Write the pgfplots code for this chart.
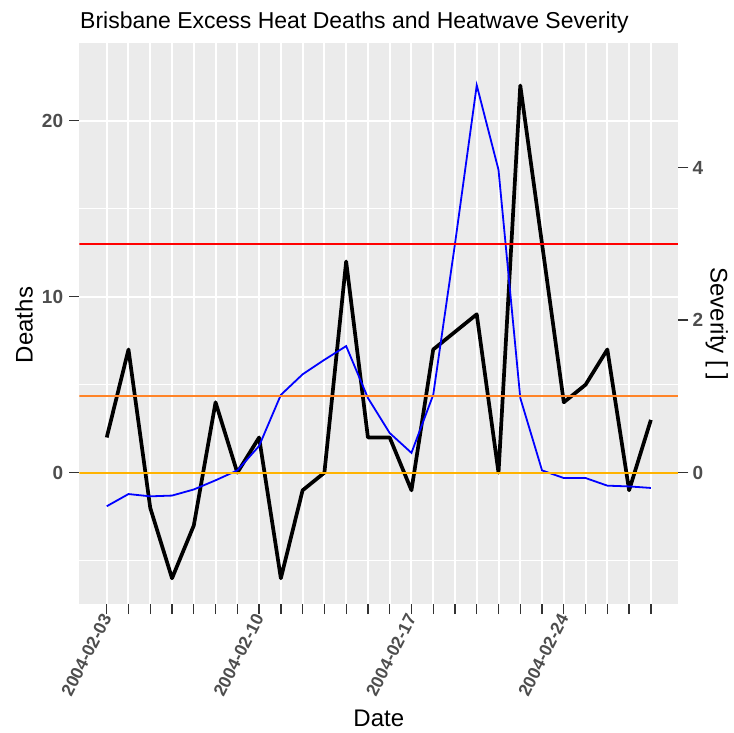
\documentclass[border=0pt]{standalone}
\usepackage{pgfplots}
\pgfplotsset{compat=1.18}
\usepackage{pgfplotstable}
\usepackage{fontspec}
\setmainfont{Liberation Sans}
\definecolor{panelbg}{HTML}{EBEBEB}
\definecolor{tickgrey}{HTML}{4D4D4D}
\definecolor{tickdark}{HTML}{333333}
\definecolor{sevred}{HTML}{FF0000}
\definecolor{sevorange}{HTML}{FF8428}
\definecolor{sevyellow}{HTML}{FFB300}

\pgfplotstableread{
day deaths severity
0 2 -0.44
1 7 -0.28
2 -2 -0.31
3 -6 -0.30
4 -3 -0.22
5 4 -0.10
6 0 0.03
7 2 0.35
8 -6 1.02
9 -1 1.29
10 0 1.48
11 12 1.66
12 2 0.98
13 2 0.52
14 -1 0.26
15 7 1.02
16 8 3.00
17 9 5.08
18 0 3.97
19 22 0.98
20 13 0.03
21 4 -0.07
22 5 -0.07
23 7 -0.17
24 -1 -0.18
25 3 -0.20
}\datatable

\begin{document}
\begin{tikzpicture}
\useasboundingbox (0,0) rectangle (734bp,733bp);
\begin{axis}[
  at={(79.3bp,129bp)}, anchor=south west,
  width=599bp, height=561.3bp, scale only axis,
  xmin=-1.26, xmax=26.26, ymin=-7.46, ymax=24.43,
  axis background/.style={fill=panelbg},
  axis line style={draw=none},
  xtick={0,...,25},
  xticklabels={2004-02-03,{},{},{},{},{},{},2004-02-10,{},{},{},{},{},{},2004-02-17,{},{},{},{},{},{},2004-02-24,{},{},{},{}},
  ytick={0,10,20},
  minor ytick={-5,5,15},
  grid=both,
  major grid style={white, line width=2bp},
  minor grid style={white, line width=1.1bp},
  tick align=outside,
  xtick pos=left, ytick pos=left,
  major tick length=10bp, minor tick length=0pt,
  tick style={color=tickdark, line width=1.3bp},
  /pgf/number format/assume math mode=true,
  tick label style={font=\fontsize{19bp}{19bp}\selectfont\bfseries, text=tickgrey, inner sep=0pt},
  yticklabel style={anchor=east, xshift=-6bp},
  xticklabel style={font=\fontsize{17.5bp}{17.5bp}\selectfont\bfseries, yshift=-1bp, rotate=63, anchor=east},
  clip=true,
]
\addplot[black, line width=3.7bp, line join=round] table[x=day,y=deaths]{\datatable};
\end{axis}
\begin{axis}[
  at={(79.3bp,129bp)}, anchor=south west,
  width=599bp, height=561.3bp, scale only axis,
  xmin=-1.26, xmax=26.26, ymin=-1.7215, ymax=5.6377,
  hide x axis,
  axis line style={draw=none},
  ytick={0,2,4},
  ytick pos=right,
  tick align=outside,
  major tick length=10bp,
  tick style={color=tickdark, line width=1.3bp},
  /pgf/number format/assume math mode=true,
  tick label style={font=\fontsize{19bp}{19bp}\selectfont\bfseries, text=tickgrey, inner sep=0pt},
  yticklabel style={anchor=west, xshift=4bp},
]
\addplot[blue, line width=1.8bp] table[x=day,y=severity]{\datatable};
\addplot[sevyellow, line width=2bp] coordinates {(-1.26,0) (26.26,0)};
\addplot[sevorange, line width=2bp] coordinates {(-1.26,1) (26.26,1)};
\addplot[sevred, line width=2bp] coordinates {(-1.26,3) (26.26,3)};
\end{axis}
\node[anchor=base west, inner sep=0pt, font=\fontsize{23bp}{23bp}\selectfont] at (80bp,704.7bp) {Brisbane Excess Heat Deaths and Heatwave Severity};
\node[anchor=base, inner sep=0pt, rotate=90, font=\fontsize{24bp}{24bp}\selectfont] at (32.5bp,408bp) {Deaths};
\node[anchor=base, inner sep=0pt, rotate=-90, font=\fontsize{24bp}{24bp}\selectfont] at (710.5bp,409bp) {Severity [ ]};
\node[anchor=base, inner sep=0pt, font=\fontsize{24bp}{24bp}\selectfont] at (378.8bp,7bp) {Date};
\end{tikzpicture}
\end{document}
